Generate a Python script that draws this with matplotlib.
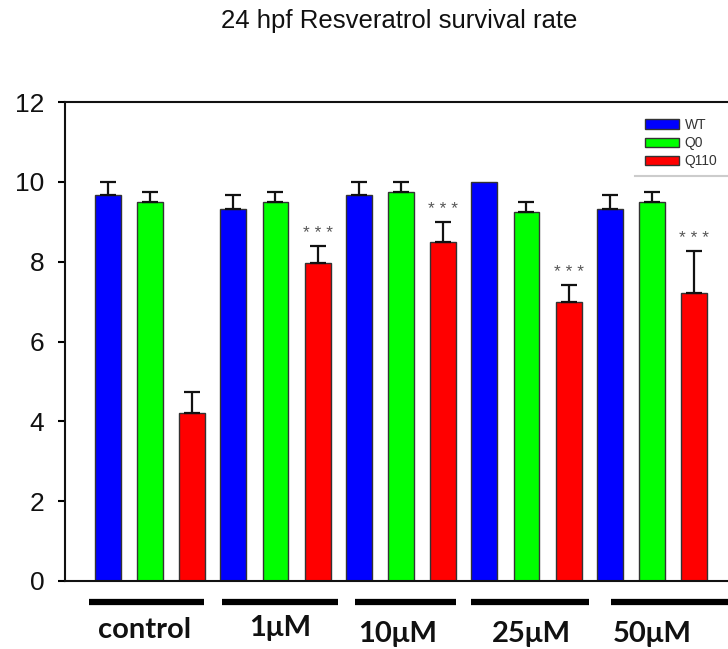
import matplotlib
matplotlib.use("Agg")
import matplotlib.pyplot as plt
import numpy as np
from matplotlib.transforms import blended_transform_factory
from matplotlib.lines import Line2D

title = "24 hpf Resveratrol survival rate"
groups = ["control", "1\u03bcM", "10\u03bcM", "25\u03bcM", "50\u03bcM"]
series = ["WT", "Q0", "Q110"]
wt = [9.67, 9.33, 9.67, 10.0, 9.33]
wt_err = [0.33, 0.33, 0.33, 0.0, 0.33]
q0 = [9.5, 9.5, 9.75, 9.25, 9.5]
q0_err = [0.25, 0.25, 0.25, 0.25, 0.25]
q110 = [4.22, 7.97, 8.5, 7.0, 7.22]
q110_err = [0.52, 0.43, 0.5, 0.42, 1.05]
sig_q110 = ["", "***", "***", "***", "***"]
yticks = [0, 2, 4, 6, 8, 10, 12]

colors = ["#0000FF", "#00FF00", "#FF0000"]
# hand-placed underline spans / label offsets (style, in group units)
line_spans = [(-0.49, 0.43), (-0.43, 0.50), (-0.37, 0.44), (-0.44, 0.50), (-0.33, 0.62)]
label_dx = [-0.04, 0.04, -0.03, 0.04, 0.0]
label_ypx = [630, 628, 634, 634, 634]

W, H = 728, 649
fig = plt.figure(figsize=(W / 100, H / 100), dpi=100)
plt.rcParams['font.family'] = ['Liberation Sans', 'DejaVu Sans']

x_left_px, x_right_px = 65, 728
y_bot_px, y_top_px = 581, 102
ax = fig.add_axes([x_left_px / W, 1 - y_bot_px / H,
                   (x_right_px - x_left_px) / W, (y_bot_px - y_top_px) / H])

x = np.arange(len(groups))
offset = 0.335
width = 0.207
vals = [wt, q0, q110]
errs = [wt_err, q0_err, q110_err]
for i, (v, e, c, name) in enumerate(zip(vals, errs, colors, series)):
    pos = x + (i - 1) * offset
    ax.bar(pos, v, width=width, color=c, edgecolor="#333333", linewidth=1.0,
           label=name, zorder=2)
    lower = np.zeros(len(v))
    e_arr = np.array(e)
    mask = e_arr > 0
    ax.errorbar(pos[mask], np.array(v)[mask], yerr=[lower[mask], e_arr[mask]],
                fmt="none", ecolor="#111111", elinewidth=1.6, capsize=5.6,
                capthick=1.6, zorder=3)

# significance stars
for i, s in enumerate(sig_q110):
    if s:
        ax.text(x[i] + offset, q110[i] + q110_err[i] + 0.2, " ".join(s),
                ha="center", va="baseline", fontsize=12.5, color="#555555",
                zorder=4)

ax.set_xlim((x_left_px - 150) / 125.5, (x_right_px - 150) / 125.5)
ax.set_ylim(0, 12)
ax.set_yticks(yticks)
ax.set_yticklabels([str(t) for t in yticks], fontsize=19, color="#111111")
ax.set_xticks([])
ax.tick_params(axis="y", length=5, width=1.5, pad=10, direction="out")
for sp in ["left", "bottom", "top"]:
    ax.spines[sp].set_linewidth(1.5)
    ax.spines[sp].set_color("#111111")
ax.spines["right"].set_visible(False)

# group underline bars and labels
trans = blended_transform_factory(ax.transData, fig.transFigure)
line_y = 1 - 602 / H
for i, g in enumerate(groups):
    a, b = line_spans[i]
    ax.add_line(Line2D([x[i] + a, x[i] + b], [line_y, line_y],
                       transform=trans, color="black", linewidth=4.5,
                       clip_on=False, solid_capstyle="butt"))
    ax.text(x[i] + label_dx[i], 1 - label_ypx[i] / H, g, transform=trans,
            ha="center", va="center", fontsize=21, fontweight="bold",
            family=["Lato", "DejaVu Sans"], color="#111111")

# legend
leg = ax.legend(loc="upper left", bbox_to_anchor=(645 / W, 1 - 118 / H),
                bbox_transform=fig.transFigure, frameon=False, fontsize=10,
                handlelength=2.45, handleheight=0.65, labelspacing=0.3,
                handletextpad=0.4, borderpad=0, borderaxespad=0)
for t in leg.get_texts():
    t.set_color("#333333")
fig.add_artist(Line2D([635 / W, 1.0], [1 - 176 / H, 1 - 176 / H],
                      transform=fig.transFigure, color="#cccccc", linewidth=1.5))

fig.text(399 / W, 1 - 21 / H, title, ha="center", va="center", fontsize=18.5,
         color="#111111")

fig.savefig("out.png", dpi=100)
